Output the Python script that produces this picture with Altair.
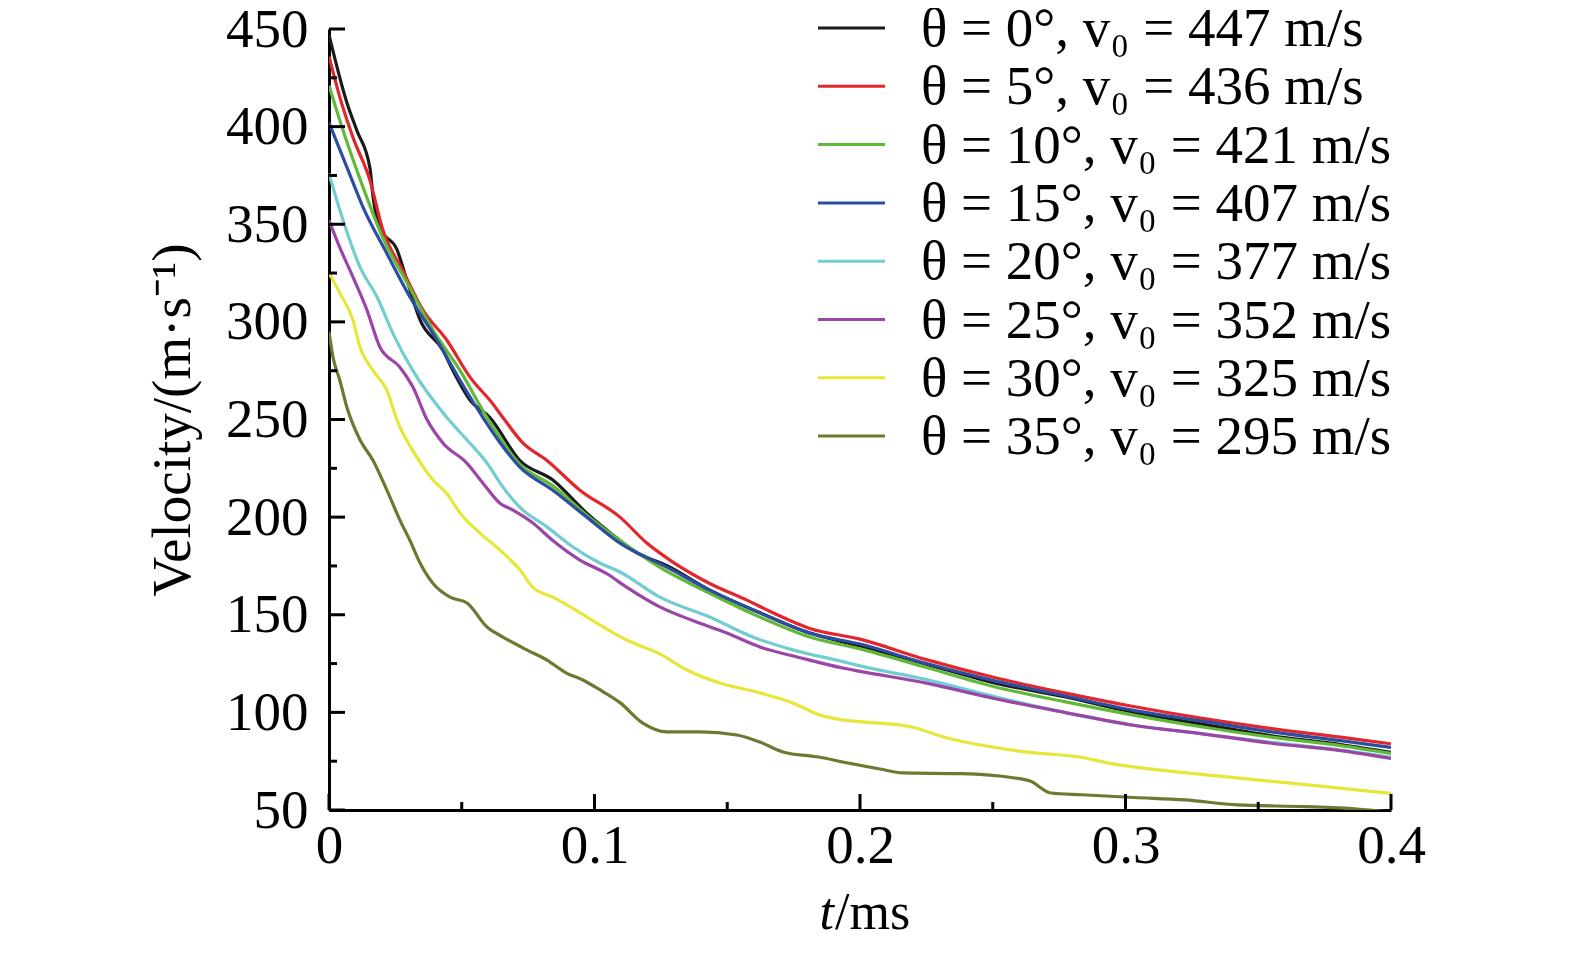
import altair as alt
import pandas as pd

# ---------------- data ----------------
LABELS = [
    "θ = 0°, v₀ = 447 m/s",
    "θ = 5°, v₀ = 436 m/s",
    "θ = 10°, v₀ = 421 m/s",
    "θ = 15°, v₀ = 407 m/s",
    "θ = 20°, v₀ = 377 m/s",
    "θ = 25°, v₀ = 352 m/s",
    "θ = 30°, v₀ = 325 m/s",
    "θ = 35°, v₀ = 295 m/s",
]
COLORS = ["#1a1a1a", "#e3262b", "#62b936", "#2c4ea2", "#72cdd0", "#9b46a6", "#e5e83a", "#6a7a30"]

X_TICKS = [0, 0.1, 0.2, 0.3, 0.4]
X_MINOR = [0.05, 0.15, 0.25, 0.35]
Y_TICKS = [50, 100, 150, 200, 250, 300, 350, 400, 450]
Y_MINOR = [75, 125, 175, 225, 275, 325, 375, 425]

T_0 = [0, 0.0068, 0.0105, 0.0154, 0.0166, 0.0192, 0.0256, 0.0294, 0.0343, 0.0429, 0.0467, 0.0531, 0.0606,
       0.0719, 0.0843, 0.0971, 0.1096, 0.1145, 0.1284, 0.1434, 0.1623, 0.1811, 0.2, 0.225, 0.251, 0.277,
       0.303, 0.329, 0.355, 0.381, 0.4]
V_0 = [447, 412, 398, 379, 364, 348, 337, 321, 301, 285.5, 275, 260, 251,
       229, 219, 202, 188, 183, 174.4, 162.6, 151, 140.6, 134, 124.7, 115, 108,
       100, 94, 88, 83.5, 79.5]

T_5 = [0, 0.0041, 0.009, 0.0154, 0.0203, 0.0279, 0.0354, 0.0444, 0.0531, 0.0617, 0.0655, 0.073, 0.0821,
       0.0945, 0.1096, 0.1197, 0.1284, 0.1434, 0.1574, 0.1672, 0.1811, 0.2, 0.225, 0.251, 0.277, 0.303,
       0.329, 0.355, 0.381, 0.4]
V_5 = [436, 415, 394.6, 372.6, 347, 326, 306, 290.6, 271.7, 258, 251, 238, 229,
       213.8, 200, 186.7, 178, 166, 157.5, 151, 143, 137.5, 127, 117.7, 110, 103,
       96.9, 91.7, 87.3, 83.9]

T_10 = [0, 0.0053, 0.0128, 0.0203, 0.0294, 0.0392, 0.0494, 0.0595, 0.0719, 0.0843, 0.0971, 0.1096,
        0.1245, 0.1434, 0.1623, 0.1811, 0.2, 0.225, 0.251, 0.277, 0.303, 0.329, 0.355, 0.381, 0.4]
V_10 = [421, 398, 369, 343, 320, 295.8, 275, 251, 227, 216, 201, 188,
        174.4, 161, 148.8, 138.6, 132.5, 123, 113, 105.5, 98.6, 92.5, 87.3, 83, 79]

T_15 = [0, 0.0068, 0.0128, 0.0218, 0.0305, 0.0407, 0.0494, 0.058, 0.0645, 0.0719, 0.0843, 0.0971,
        0.1096, 0.1272, 0.1434, 0.1623, 0.1811, 0.2, 0.225, 0.251, 0.277, 0.303, 0.329, 0.355, 0.381, 0.4]
V_15 = [402, 379, 358.8, 335, 312.7, 290.6, 270, 251, 238, 225.6, 213.8, 200,
        186.7, 174.4, 162.6, 151, 140.6, 135, 125, 116, 108.5, 101, 95.5, 90, 85.5, 82]

T_20 = [0, 0.0053, 0.0117, 0.0181, 0.0241, 0.0316, 0.0444, 0.052, 0.0595, 0.0655, 0.0719, 0.0821,
        0.0919, 0.102, 0.1096, 0.1246, 0.1434, 0.1596, 0.1747, 0.1935, 0.2, 0.225, 0.251, 0.277,
        0.303, 0.329, 0.355, 0.381, 0.4]
V_20 = [376, 352, 328, 312.7, 294, 275, 251, 239.5, 227.7, 215.4, 205, 195,
        184.7, 176.5, 171.9, 159, 148.8, 138.6, 132, 126, 123.8, 116.8, 108, 100,
        93.4, 89, 84.7, 80.7, 77]

T_25 = [0, 0.0041, 0.009, 0.0143, 0.0192, 0.0267, 0.0316, 0.0369, 0.0429, 0.0519, 0.058, 0.0645,
        0.0693, 0.0768, 0.0843, 0.0945, 0.1047, 0.1122, 0.1246, 0.137, 0.1498, 0.1623, 0.1774, 0.1935,
        0.2, 0.225, 0.251, 0.277, 0.303, 0.329, 0.355, 0.381, 0.4]
V_25 = [352, 338, 323, 306, 287, 276.8, 266.6, 250, 238, 227.7, 217.4, 207,
        203.6, 197, 188, 178, 171, 164, 154, 147, 140.6, 133.5, 128, 122.7,
        121, 115, 107, 100, 93.4, 89, 84.2, 80.4, 76.4]

T_30 = [0, 0.0041, 0.009, 0.0117, 0.0166, 0.0218, 0.0256, 0.0331, 0.0392, 0.0444, 0.0494, 0.0569,
        0.0645, 0.0719, 0.0768, 0.0843, 0.0934, 0.1009, 0.1122, 0.1246, 0.1348, 0.1472, 0.1623, 0.1747,
        0.1849, 0.1973, 0.2075, 0.2194, 0.2317, 0.251, 0.264, 0.2834, 0.2927, 0.316, 0.3419, 0.3678, 0.4]
V_30 = [325, 314.7, 301, 287, 275, 265, 249.7, 230.7, 219, 212, 202, 191.8,
        183, 173, 164, 159, 152, 145.7, 137, 130, 121.7, 115, 110, 104.8,
        98.6, 95.5, 94.5, 92.5, 87.3, 82, 79.5, 77, 74.3, 70, 66.5, 63, 58.5]

T_35 = [0, 0.0015, 0.0041, 0.0068, 0.0117, 0.0166, 0.0218, 0.0267, 0.0305, 0.0343, 0.0392, 0.0456,
        0.052, 0.0595, 0.0655, 0.0745, 0.0821, 0.0896, 0.0956, 0.1015, 0.1096, 0.1182, 0.1272, 0.1396,
        0.1536, 0.1623, 0.171, 0.1849, 0.1935, 0.2075, 0.2162, 0.2382, 0.2576, 0.2641, 0.2719, 0.2836,
        0.303, 0.3225, 0.342, 0.3678, 0.3872, 0.4]
V_35 = [295, 282, 270, 256, 239.5, 229, 213.8, 198.5, 188, 176.5, 166, 159,
        156, 143.7, 138.6, 132, 126.8, 120, 116.6, 112, 105, 94.5, 90, 90,
        88.4, 84.8, 79.7, 77, 74.6, 71, 69, 68.6, 66.5, 64.8, 58.7, 57.8,
        56.4, 55.2, 52.6, 51.7, 50.5, 49]

SERIES_T = [T_0, T_5, T_10, T_15, T_20, T_25, T_30, T_35]
SERIES_V = [V_0, V_5, V_10, V_15, V_20, V_25, V_30, V_35]

rows = []
for k, (lab, ts, vs) in enumerate(zip(LABELS, SERIES_T, SERIES_V)):
    for t, v in zip(ts, vs):
        rows.append({"series": lab, "k": k, "t": t, "v": v})
df = pd.DataFrame(rows)

# ---------------- layout / style ----------------
W, H = 1062, 781
FONT = "Liberation Serif"
LEG_MID, LEG_BASE, LEG_STEP = -1, 17, 58.3

x_scale = alt.Scale(domain=[0, 0.4], nice=False, zero=False)
y_scale = alt.Scale(domain=[50, 450], nice=False, zero=False)
color_scale = alt.Scale(domain=LABELS, range=COLORS)

x_axis = alt.Axis(values=X_TICKS, format=".1~f", title=None, labelFlush=False,
                  labelPadding=9, labelOverlap=False)
y_axis = alt.Axis(values=Y_TICKS, format="d", title="Velocity/(m·s⁻¹)",
                  labelPadding=21, titlePadding=24, labelOverlap=False)

lines = alt.Chart(df).mark_line(strokeWidth=3.2, clip=True, interpolate="monotone").encode(
    x=alt.X("t:Q", scale=x_scale, axis=x_axis),
    y=alt.Y("v:Q", scale=y_scale, axis=y_axis),
    color=alt.Color("series:N", scale=color_scale, legend=None),
    detail="k:N",
)

ytick_major = alt.Chart(pd.DataFrame({"v": Y_TICKS})).mark_rule(color="black", strokeWidth=3).encode(
    y=alt.Y("v:Q", scale=y_scale, axis=y_axis), x=alt.value(0), x2=alt.value(16))
ytick_minor = alt.Chart(pd.DataFrame({"v": Y_MINOR})).mark_rule(color="black", strokeWidth=3).encode(
    y=alt.Y("v:Q", scale=y_scale, axis=y_axis), x=alt.value(0), x2=alt.value(8))
xtick_major = alt.Chart(pd.DataFrame({"t": X_TICKS})).mark_rule(color="black", strokeWidth=3).encode(
    x=alt.X("t:Q", scale=x_scale, axis=x_axis), y=alt.value(H), y2=alt.value(H - 16))
xtick_minor = alt.Chart(pd.DataFrame({"t": X_MINOR})).mark_rule(color="black", strokeWidth=3).encode(
    x=alt.X("t:Q", scale=x_scale, axis=x_axis), y=alt.value(H), y2=alt.value(H - 8))

leg_df = pd.DataFrame({"label": LABELS, "idx": list(range(len(LABELS)))})
leg_base = alt.Chart(leg_df).transform_calculate(
    ly=f"{LEG_MID} + datum.idx * {LEG_STEP}",
    lt=f"{LEG_BASE} + datum.idx * {LEG_STEP}",
)
leg_lines = leg_base.mark_rule(strokeWidth=3).encode(
    x=alt.value(489), x2=alt.value(556),
    y=alt.Y("ly:Q", scale=None),
    color=alt.Color("label:N", scale=color_scale, legend=None),
)
leg_text = leg_base.mark_text(align="left", baseline="alphabetic", font=FONT, fontSize=55, color="black").encode(
    x=alt.value(592),
    y=alt.Y("lt:Q", scale=None),
    text="label:N",
)

xt_t = alt.Chart(pd.DataFrame({"s": ["t"]})).mark_text(
    align="right", baseline="alphabetic", font=FONT, fontSize=52, fontStyle="italic", color="black"
).encode(x=alt.value(505), y=alt.value(H + 119), text="s:N")
xt_ms = alt.Chart(pd.DataFrame({"s": ["/ms"]})).mark_text(
    align="left", baseline="alphabetic", font=FONT, fontSize=52, color="black"
).encode(x=alt.value(506), y=alt.value(H + 119), text="s:N")

chart = alt.layer(
    lines, ytick_major, ytick_minor, xtick_major, xtick_minor, leg_lines, leg_text, xt_t, xt_ms
).properties(
    width=W, height=H,
    padding={"left": 321, "top": 21, "right": 170, "bottom": 130},
    autosize=alt.AutoSizeParams(type="none"),
    background="white",
).configure_view(stroke=None).configure_axis(
    domainColor="black", domainWidth=3, ticks=False, tickSize=0, grid=False,
    labelFont=FONT, labelFontSize=55, labelColor="black",
    titleFont=FONT, titleFontSize=55, titleFontWeight="normal", titleColor="black",
)

chart.save("out.html", embed_options={"renderer": "svg", "actions": False})
